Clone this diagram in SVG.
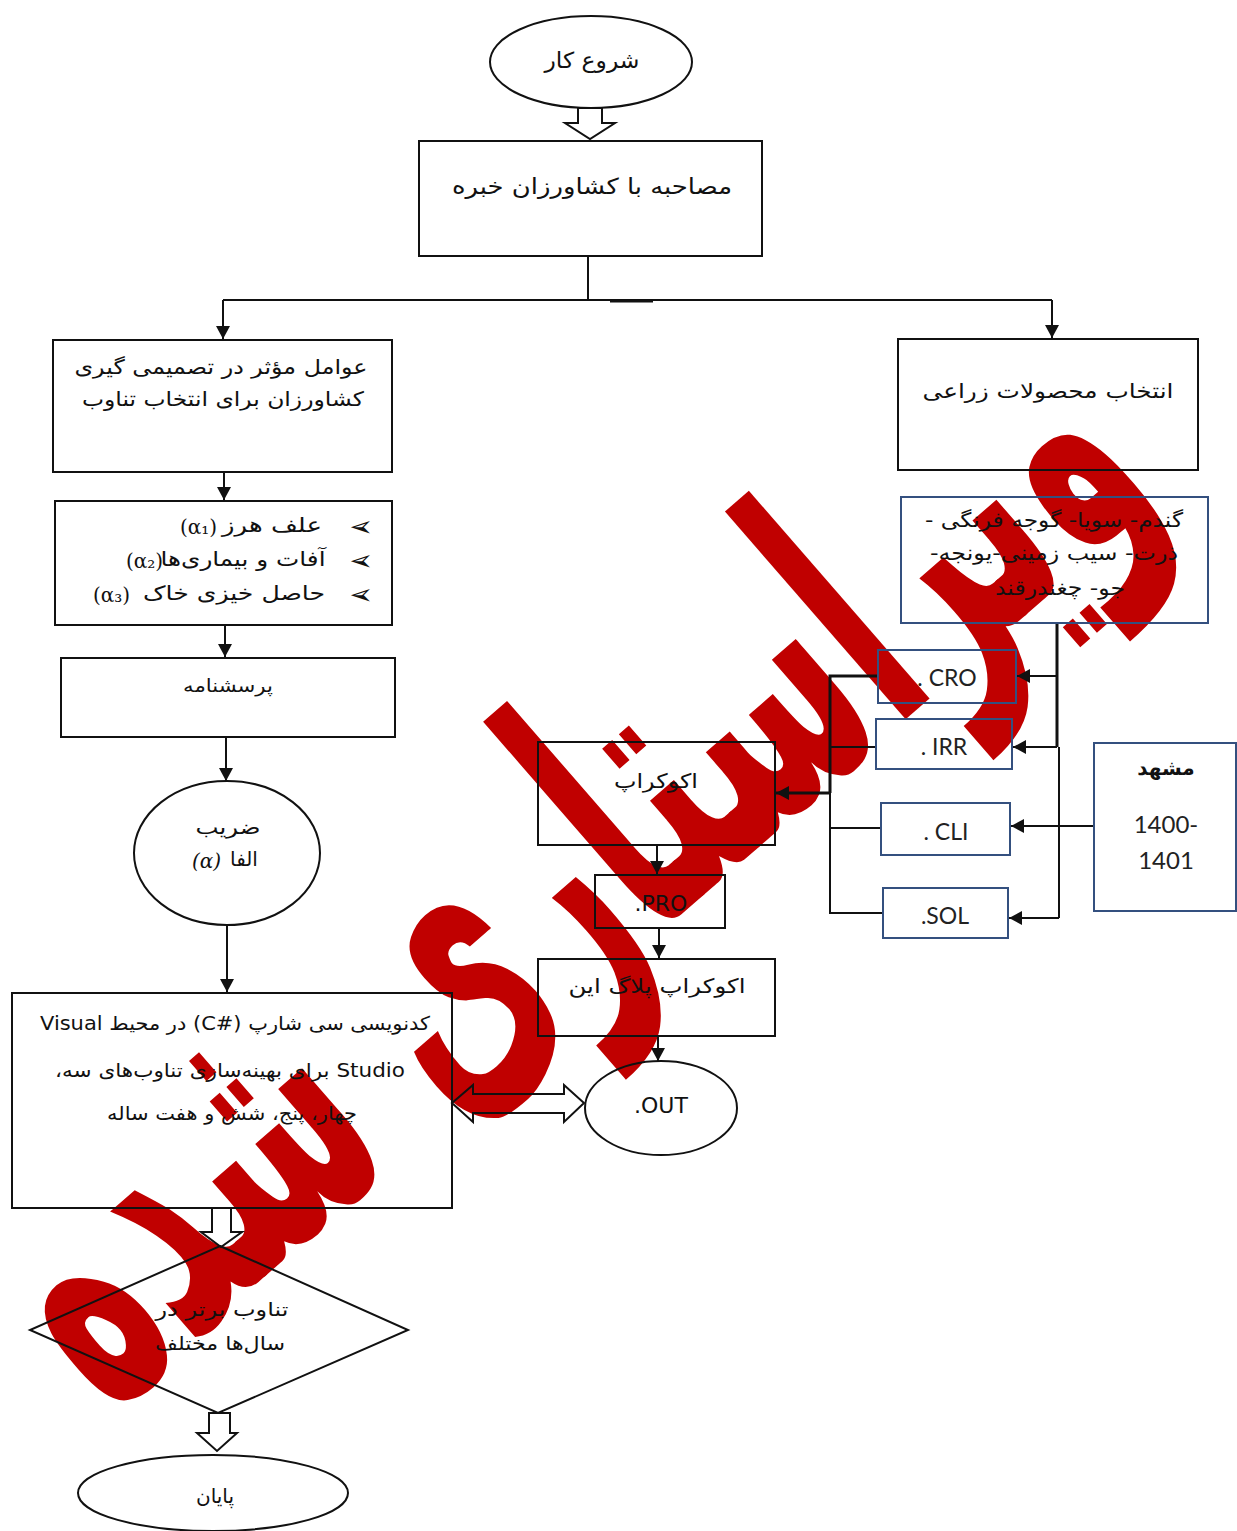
<svg xmlns="http://www.w3.org/2000/svg" width="1237" height="1531" viewBox="0 0 1237 1531">
<style>
.bg{fill:#ffffff}
.box{fill:none;stroke:#111;stroke-width:2}
.bbox{fill:none;stroke:#34507f;stroke-width:2}
.ln{fill:none;stroke:#111;stroke-width:2}
.thk{fill:none;stroke:#111;stroke-width:3}
.blk{fill:none;stroke:#111;stroke-width:2;stroke-linejoin:miter}
.fa{font-family:"DejaVu Sans",sans-serif;fill:#111}
.lat{font-family:"Lato","Open Sans",sans-serif;fill:#222}
.sr{font-family:"DejaVu Serif",serif;fill:#111}
.wm{font-family:"DejaVu Sans",sans-serif;fill:#c00000;font-weight:bold}
</style>
<defs>
<marker id="ah" markerUnits="userSpaceOnUse" markerWidth="14" markerHeight="14" refX="13" refY="7" orient="auto">
<path d="M0,0 L13,7 L0,14 z" fill="#111"/>
</marker>
</defs>
<rect class="bg" x="0" y="0" width="1237" height="1531"/>

<g id="watermark">
<text class="wm" font-size="250" text-anchor="middle" x="0" y="55" textLength="1400" lengthAdjust="spacingAndGlyphs" transform="translate(582,895) rotate(-41) scale(1,1.45)">ویراستاری شده</text>
</g>

<g id="connectors">
<path class="blk" d="M578,108 H602 V123 H615 L590,139 L565,123 H578 Z"/>
<path class="ln" d="M588,256 V300"/>
<path class="ln" d="M223,300 H1052"/>
<path class="thk" d="M610,301 H653"/>
<path class="ln" d="M223,300 V339" marker-end="url(#ah)"/>
<path class="ln" d="M1052,300 V338" marker-end="url(#ah)"/>
<path class="ln" d="M224,472 V500" marker-end="url(#ah)"/>
<path class="ln" d="M225,625 V657" marker-end="url(#ah)"/>
<path class="ln" d="M226,737 V781" marker-end="url(#ah)"/>
<path class="ln" d="M227,925 V992" marker-end="url(#ah)"/>
<path class="blk" d="M212,1208 H231 V1232 H242 L221,1247 L201,1232 H212 Z"/>
<path class="blk" d="M209,1413 H230 V1433 H237 L217,1451 L197,1433 H209 Z"/>
<path class="blk" d="M452,1103 L473,1085 V1094 H564 V1085 L584,1103 L564,1122 V1113 H473 V1122 Z"/>
<path class="ln" d="M657,845 V874" marker-end="url(#ah)"/>
<path class="ln" d="M659,928 V958" marker-end="url(#ah)"/>
<path class="ln" d="M658,1036 V1061" marker-end="url(#ah)"/>
<path class="thk" d="M1057,623 V747"/>
<path class="ln" d="M1059,747 V918"/>
<path class="ln" d="M1057,676 H1017" marker-end="url(#ah)"/>
<path class="ln" d="M1057,747 H1013" marker-end="url(#ah)"/>
<path class="ln" d="M1059,918 H1009" marker-end="url(#ah)"/>
<path class="ln" d="M1094,826 H1011" marker-end="url(#ah)"/>
<path class="thk" d="M878,676 H830 V793"/>
<path class="ln" d="M830,793 V913 H883"/>
<path class="ln" d="M876,747 H830"/>
<path class="ln" d="M881,828 H830"/>
<path class="thk" d="M831,793 H776" marker-end="url(#ah)"/>
</g>

<g id="start">
<ellipse class="box" cx="591" cy="62" rx="101" ry="46"/>
<text class="fa" font-size="22" x="592" y="68" text-anchor="middle" textLength="95" lengthAdjust="spacingAndGlyphs">شروع کار</text>
</g>

<g id="interview">
<rect class="box" x="419" y="141" width="343" height="115"/>
<text class="fa" font-size="22" x="592" y="194" text-anchor="middle" textLength="280" lengthAdjust="spacingAndGlyphs">مصاحبه با کشاورزان خبره</text>
</g>

<g id="factors">
<rect class="box" x="53" y="340" width="339" height="132"/>
<text class="fa" font-size="20" x="221" y="374" text-anchor="middle" textLength="293" lengthAdjust="spacingAndGlyphs">عوامل مؤثر در تصمیمی گیری</text>
<text class="fa" font-size="20" x="223" y="406" text-anchor="middle" textLength="282" lengthAdjust="spacingAndGlyphs">کشاورزان برای انتخاب تناوب</text>
</g>

<g id="factor-list">
<rect class="box" x="55" y="501" width="337" height="124"/>
<text class="fa" font-size="28" transform="translate(373,536) scale(-1,1)">➢</text>
<text class="fa" font-size="28" transform="translate(373,570) scale(-1,1)">➢</text>
<text class="fa" font-size="28" transform="translate(373,604) scale(-1,1)">➢</text>
<text class="fa" font-size="20" x="272" y="532" text-anchor="middle" textLength="100" lengthAdjust="spacingAndGlyphs">علف هرز</text>
<text class="sr" font-size="20" x="180" y="534">(α₁)</text>
<text class="fa" font-size="20" x="243" y="566" text-anchor="middle" textLength="165" lengthAdjust="spacingAndGlyphs">آفات و بیماری‌ها</text>
<text class="sr" font-size="20" x="126" y="568">(α₂)</text>
<text class="fa" font-size="20" x="234" y="600" text-anchor="middle" textLength="182" lengthAdjust="spacingAndGlyphs">حاصل خیزی خاک</text>
<text class="sr" font-size="20" x="93" y="602">(α₃)</text>
</g>

<g id="questionnaire">
<rect class="box" x="61" y="658" width="334" height="79"/>
<text class="fa" font-size="18" x="228" y="692" text-anchor="middle" textLength="90" lengthAdjust="spacingAndGlyphs">پرسشنامه</text>
</g>

<g id="alpha">
<ellipse class="box" cx="227" cy="853" rx="93" ry="72"/>
<text class="fa" font-size="20" x="228" y="834" text-anchor="middle" textLength="65" lengthAdjust="spacingAndGlyphs">ضریب</text>
<text class="fa" font-size="20" x="244" y="866" text-anchor="middle">الفا</text>
<text class="sr" font-size="20" font-style="italic" x="192" y="868">(α)</text>
</g>

<g id="coding">
<rect class="box" x="12" y="993" width="440" height="215"/>
<text class="fa" font-size="19" x="235" y="1030" text-anchor="middle" direction="rtl" textLength="390" lengthAdjust="spacingAndGlyphs">کدنویسی سی شارپ &#x2066;(C#)&#x2069; در محیط  Visual</text>
<text class="fa" font-size="19" x="230" y="1077" text-anchor="middle" direction="rtl" textLength="350" lengthAdjust="spacingAndGlyphs">Studio برای بهینه‌سازی تناوب‌های سه،</text>
<text class="fa" font-size="19" x="232" y="1120" text-anchor="middle" direction="rtl" textLength="250" lengthAdjust="spacingAndGlyphs">چهار، پنج، شش و هفت ساله</text>
</g>

<g id="best-rotation">
<polygon class="box" points="220,1246 408,1330 218,1413 30,1330"/>
<text class="fa" font-size="19" x="222" y="1316" text-anchor="middle" textLength="133" lengthAdjust="spacingAndGlyphs">تناوب برتر در</text>
<text class="fa" font-size="19" x="220" y="1350" text-anchor="middle" textLength="130" lengthAdjust="spacingAndGlyphs">سال‌ها مختلف</text>
</g>

<g id="end">
<ellipse class="box" cx="213" cy="1493" rx="135" ry="38"/>
<text class="fa" font-size="20" x="215" y="1503" text-anchor="middle">پایان</text>
</g>

<g id="crop-select">
<rect class="box" x="898" y="339" width="300" height="131"/>
<text class="fa" font-size="20" x="1048" y="398" text-anchor="middle" textLength="251" lengthAdjust="spacingAndGlyphs">انتخاب محصولات زراعی</text>
</g>

<g id="crops">
<rect class="bbox" x="901" y="497" width="307" height="126"/>
<text class="fa" font-size="20" x="1054" y="527" text-anchor="middle" direction="rtl" textLength="258" lengthAdjust="spacingAndGlyphs">گندم- سویا- گوجه فرنگی -</text>
<text class="fa" font-size="20" x="1054" y="560" text-anchor="middle" direction="rtl" textLength="248" lengthAdjust="spacingAndGlyphs">ذرت- سیب زمینی-یونجه-</text>
<text class="fa" font-size="20" x="1060" y="595" text-anchor="middle" direction="rtl" textLength="130" lengthAdjust="spacingAndGlyphs">جو- چغندرقند</text>
</g>

<g id="cro">
<rect class="bbox" x="878" y="650" width="138" height="53"/>
<text class="lat" font-size="23" x="947" y="686" text-anchor="middle">. CRO</text>
</g>
<g id="irr">
<rect class="bbox" x="876" y="719" width="136" height="50"/>
<text class="lat" font-size="23" x="944" y="755" text-anchor="middle">. IRR</text>
</g>
<g id="cli">
<rect class="bbox" x="881" y="803" width="129" height="52"/>
<text class="lat" font-size="23" x="946" y="840" text-anchor="middle">. CLI</text>
</g>
<g id="sol">
<rect class="bbox" x="883" y="888" width="125" height="50"/>
<text class="lat" font-size="23" x="945" y="924" text-anchor="middle">.SOL</text>
</g>

<g id="mashhad">
<rect class="bbox" x="1094" y="743" width="142" height="168"/>
<text class="fa" font-size="20" font-weight="bold" x="1166" y="775" text-anchor="middle">مشهد</text>
<text class="lat" font-size="24" x="1166" y="833" text-anchor="middle">1400-</text>
<text class="lat" font-size="24" x="1166" y="869" text-anchor="middle">1401</text>
</g>

<g id="ecocrop">
<rect class="box" x="538" y="742" width="237" height="103"/>
<text class="fa" font-size="20" x="656" y="788" text-anchor="middle" textLength="84" lengthAdjust="spacingAndGlyphs">اکوکراپ</text>
</g>

<g id="pro">
<rect class="box" x="595" y="875" width="130" height="53"/>
<text class="fa" font-size="22" x="661" y="911" text-anchor="middle">.PRO</text>
</g>

<g id="plugin">
<rect class="box" x="538" y="959" width="237" height="77"/>
<text class="fa" font-size="20" x="657" y="993" text-anchor="middle" textLength="177" lengthAdjust="spacingAndGlyphs">اکوکراپ پلاگ این</text>
</g>

<g id="out">
<ellipse class="box" cx="661" cy="1108" rx="76" ry="47"/>
<text class="fa" font-size="22" x="661" y="1113" text-anchor="middle">.OUT</text>
</g>
</svg>
